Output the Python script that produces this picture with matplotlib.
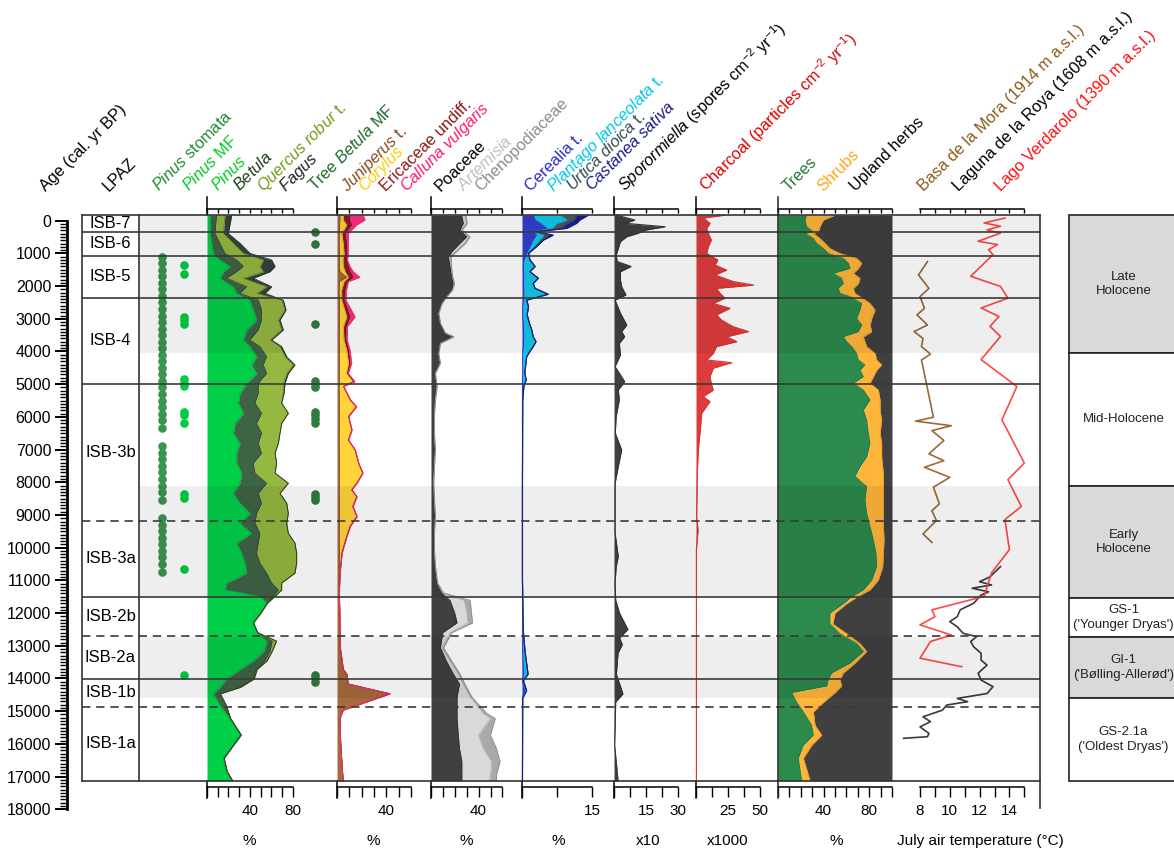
import numpy as np
import matplotlib.pyplot as plt
from matplotlib.patches import Rectangle

plt.rcParams['font.family'] = ['Liberation Sans', 'DejaVu Sans']
plt.rcParams['mathtext.fontset'] = 'custom'
plt.rcParams['mathtext.rm'] = 'Liberation Sans'
plt.rcParams['mathtext.it'] = 'Liberation Sans:italic'
plt.rcParams['mathtext.bf'] = 'Liberation Sans:bold'
plt.rcParams['axes.linewidth'] = 1.1

# ---------------- data ----------------
# zones (LPAZ) and chronozones, ages in cal. yr BP
zone_names = ['ISB-7', 'ISB-6', 'ISB-5', 'ISB-4', 'ISB-3b', 'ISB-3a', 'ISB-2b', 'ISB-2a', 'ISB-1b', 'ISB-1a']
zone_tops = [-174, 350, 1070, 2355, 5000, 9190, 11500, 12690, 14015, 14860]
zone_line = ['', '-', '-', '-', '-', '--', '-', '--', '-', '--']
period_names = ['Late\nHolocene', 'Mid-Holocene', 'Early\nHolocene', "GS-1\n('Younger Dryas')",
                "GI-1\n('Bølling-Allerød')", "GS-2.1a\n('Oldest Dryas')"]
period_tops = [-174, 4045, 8110, 11540, 12730, 14600]
period_shaded = [True, False, True, False, True, False]
base_age = 17135

# presence dots
pinus_stomata = [1100, 1300, 1500, 1700, 1900, 2100, 2300, 2500, 2700, 2900, 3100, 3300, 3500, 3700,
                 3900, 4100, 4300, 4500, 4700, 4900, 5100, 5300, 5500, 5700, 5900, 6100, 6350,
                 6900, 7100, 7300, 7500, 7700, 7900, 8100, 8300, 8550,
                 9100, 9300, 9500, 9700, 9900, 10100, 10300, 10500, 10750]
pinus_mf = [1350, 1620, 2950, 3050, 3150, 4850, 4950, 5050, 5850, 5950, 6200, 8350, 8480, 10650, 13900]
betula_mf = [350, 700, 3150, 4900, 5000, 5100, 5850, 5950, 6050, 6200, 8350, 8450, 8550, 13900, 14000, 14100]

# tree pollen (%)
tree_age = [-170, 390, 690, 1000, 1200, 1400, 1560, 1760, 2020, 2220, 2430, 2730, 3040, 3340, 3650,
            3850, 4160, 4410, 4670, 4970, 5280, 5580, 5890, 6200, 6500, 6810, 7110, 7420, 7720,
            8030, 8340, 8640, 8950, 9250, 9560, 9860, 10170, 10470, 10780, 11080, 11290, 11490,
            11700, 12000, 12300, 12600, 12860, 13170, 13470, 13720, 14020, 14270, 14470, 14820,
            15220, 15730, 16440, 16850, 17130]
pinus = [3.4, 2.8, 4.4, 5.9, 12.1, 21.5, 15.3, 12.1, 24.6, 27.7, 40.2, 43.3, 46.4, 37.1, 34.0,
         40.2, 46.4, 41.7, 46.4, 37.1, 30.8, 29.3, 34.0, 26.2, 24.6, 30.8, 27.7, 27.7, 32.4,
         30.8, 24.6, 30.8, 40.2, 30.8, 41.7, 27.7, 32.4, 35.5, 37.1, 18.4, 16.8, 49.5,
         56, 50, 43, 47, 56, 53, 43, 31, 18, 12, 6, 12, 21, 31, 15, 18, 23]
betula = [5.6, 4.7, 7.7, 10.9, 15.6, 12.5, 12.4, 6.3, 12.5, 3.1, 7.8, 7.8, 4.7, 10.9, 6.2,
          9.3, 9.4, 10.9, 9.4, 10.9, 17.2, 15.6, 17.1, 20.2, 26.5, 17.2, 23.4, 15.6, 12.5,
          25.0, 23.4, 20.3, 6.2, 14.1, 7.8, 20.3, 14.0, 14.0, 18.7, 42.0, 49.9, 12.5,
          0.3, 0.3, 0.3, 0.3, 5, 6, 11, 15, 25, 19, 6, 6, 1, 1, 1, 1, 1]
quercus = [7.8, 7.8, 12.5, 17.2, 24.9, 15.5, 24.9, 15.6, 18.7, 15.6, 21.8, 21.8, 15.6, 21.8, 18.7,
           18.7, 17.1, 28.1, 18.7, 23.3, 23.3, 24.9, 24.9, 23.4, 17.1, 18.7, 12.5, 21.8, 18.7,
           20.2, 20.2, 23.4, 29.6, 29.6, 26.5, 34.2, 37.4, 34.3, 26.4, 9.4, 3.1, 1.6,
           0.2, 0.2, 0.2, 0.2, 4, 2, 2, 1, 1, 0.5, 0.5, 0, 0, 0, 0, 0, 0]
fagus = [6.3, 4.6, 6.2, 6.2, 7.8, 14.1, 6.3, 9.3, 4.6, 7.8, 1.5, 0.9, 1.5, 1.5, 1.5,
         1.6, 1.6, 1.5, 1.5, 1.6, 0.7, 0, 0, 0, 0, 0, 0, 0, 0,
         0, 0, 0, 0, 0, 0, 0, 0, 0, 0, 0, 0, 0,
         0, 0, 0, 0, 0, 0, 0, 0, 0, 0, 0, 0, 0, 0, 0, 0, 0]

# shrubs (%)
shrub_age = [-170, -20, 130, 390, 690, 1000, 1200, 1400, 1560, 1730, 1860, 2120, 2430, 2940, 3240,
             3650, 3950, 4360, 4670, 4920, 5070, 5480, 5690, 5990, 6400, 6710, 7010, 7420, 7720,
             8030, 8230, 8440, 8740, 9050, 9350, 9660, 10170, 10780, 11390, 12000, 13060, 13720,
             13870, 14170, 14470, 14720, 14970, 15220, 16000, 17130]
juniperus = [2.4, 2.4, 2.0, 1.9, 1.8, 1.9, 2.0, 1.9, 2.4, 7.8, 1.9, 1.8, 1.9, 2.0, 1.9,
             1.8, 1.9, 2.0, 1.9, 1.9, 1.8, 1.9, 2.0, 1.9, 1.9, 1.8, 1.9, 2.0, 1.9,
             1.9, 1.8, 1.9, 1.9, 2.0, 1.9, 1.8, 1.9, 1.9, 1.5, 2.0, 2.5, 5.0,
             8.0, 9.0, 43.0, 24.0, 5.0, 2.4, 3.0, 5.0]
corylus = [2.7, 2.7, 5.8, 1.9, 3.2, 3.8, 2.7, 3.2, 4.1, 1.4, 3.8, 1.9, 1.9, 5.9, 3.2,
           3.8, 5.9, 7.3, 5.9, 11.3, 3.2, 8.6, 13.5, 7.3, 10.0, 7.3, 12.7, 15.4, 18.9,
           14.0, 10.0, 14.0, 10.8, 14.0, 8.6, 5.9, 1.9, 0.5, 0.2, 0.2, 0.2, 0.1,
           0, 0, 0, 0, 0, 0, 0, 0]
ericaceae = [5.4, 4.9, 4.1, 2.7, 2.7, 2.1, 2.7, 4.1, 4.0, 4.0, 2.1, 2.7, 1.9, 2.7, 2.2,
             1.6, 1.4, 1.3, 0.7, 0.6, 0.4, 0.3, 0.3, 0.2, 0.2, 0.2, 0.2, 0.2, 0.2,
             0.2, 0.2, 0.2, 0.2, 0.2, 0.2, 0.2, 0.2, 0.1, 0.1, 0.1, 0, 0,
             0, 0, 0, 0, 0, 0, 0, 0]
calluna = [10.9, 12.7, 4.0, 2.7, 1.4, 1.4, 1.1, 1.3, 2.7, 5.4, 1.4, 1.3, 1.6, 4.1, 1.1,
           1.1, 1.3, 1.4, 0.7, 0.8, 0.2, 0.2, 0.3, 0.2, 0.2, 0.2, 0.2, 0.2, 0.2,
           0.2, 0.2, 0.2, 0.2, 0.2, 0.2, 0.2, 0.2, 0.1, 0.1, 0.1, 0.1, 0.1,
           0.1, 0.1, 0.2, 0.1, 0.1, 0, 0, 0]

# herbs (%)
herb_age = [-170, 80, 290, 490, 690, 900, 1100, 1400, 1710, 1920, 2120, 2320, 2530, 2830, 3140,
            3440, 3550, 3750, 4060, 4360, 4670, 5070, 5480, 5990, 6500, 7010, 7520, 8030, 8540,
            9050, 9560, 10070, 10580, 11090, 11390, 11610, 12000, 12300, 12600, 13060, 13470,
            13870, 14170, 14570, 15070, 15220, 15730, 16140, 16540, 16940, 17130]
poaceae = [25.8, 27.2, 24.4, 30.0, 24.4, 18.8, 14.6, 16.0, 17.4, 18.8, 17.4, 13.2, 9.0, 6.2, 7.6,
           11.8, 18.8, 7.6, 6.2, 7.6, 3.4, 4.8, 3.4, 2.5, 2.5, 3.4, 2.5, 2.0, 2.5,
           3.4, 2.5, 2.5, 3.4, 4.8, 9.0, 16, 20, 22, 10, 8, 13,
           19, 24, 22, 22, 22, 23, 24, 26, 26, 26]
artemisia = [2.8, 2.8, 1.4, 2.2, 4.2, 3.5, 1.9, 1.0, 0.6, 0.7, 0.6, 0.3, 0.3, 0.3, 0.3,
             0.3, 0.3, 0.3, 0.3, 0.3, 0.3, 0.3, 0.3, 0.3, 0.3, 0.3, 0.3, 0.3, 0.3,
             0.3, 0.3, 0.3, 0.3, 0.7, 1.4, 12, 10, 9, 6, 1, 3,
             4, 3, 11, 22, 28, 17, 20, 25, 24, 23]
chenopod = [0.5, 0.5, 0.3, 0.5, 0.5, 0.5, 0.3, 0.2, 0.2, 0.2, 0.2, 0.1, 0.1, 0.1, 0.1,
            0.1, 0.1, 0.1, 0.1, 0.1, 0.1, 0.1, 0.1, 0.1, 0.1, 0.1, 0.1, 0.1, 0.1,
            0.1, 0.1, 0.1, 0.1, 0.2, 0.3, 5, 4, 4, 1.5, 1.5, 1.5,
            1.5, 1.5, 1.5, 3, 4, 10, 11, 7, 5, 6]

# anthropogenic indicators (%)
cereal_age = [-170, -20, 80, 235, 335, 440, 590, 795, 1000, 1200, 1400, 1560, 1760, 1920, 2070,
              2250, 2430, 2630, 2880, 3190, 3340, 3550, 3700, 3850, 4000, 4160, 4670, 4870, 5070,
              5500, 8000, 11000, 12500, 13170, 13870, 14070, 14370, 14600, 17130]
cerealia = [2.4, 2.8, 3.9, 5.3, 2.4, 3.1, 2.4, 1.7, 1.0, 0.4, 0.3, 0.3, 0.4, 0.3, 0.4,
            0.4, 0.3, 0.15, 0.15, 0.3, 0.3, 0.4, 0.3, 0.3, 0.15, 0.15, 0.15, 0.1, 0.1,
            0.1, 0.1, 0.1, 0.15, 0.15, 0.3, 0.1, 0.6, 0.1, 0.1]
plantago = [5.7, 6.8, 3.5, 1.1, 0.4, 1.5, 1.5, 1.1, 0.4, 1.3, 2.5, 1.4, 3.1, 2.1, 2.4,
            5.2, 0.7, 1.25, 0.95, 1.4, 1.8, 2.0, 2.7, 2.1, 1.55, 0.85, 0.45, 0.8, 0.3,
            0.05, 0, 0, 0.1, 0.5, 1.0, 0.2, 0.4, 0.05, 0]
urtica = [3.6, 1.4, 2.2, 1.7, 0, 1.0, 0.3, 0.1, 0, 0, 0, 0, 0, 0, 0,
          0, 0, 0, 0, 0, 0, 0, 0, 0, 0, 0, 0, 0, 0,
          0, 0, 0, 0, 0, 0, 0, 0, 0, 0]
castanea = [2.5, 1.4, 2.1, 1.5, 0.3, 1.1, 0.4, 0.2, 0, 0, 0, 0, 0, 0, 0,
            0, 0, 0, 0, 0, 0, 0, 0, 0, 0, 0, 0, 0, 0,
            0, 0, 0, 0, 0, 0, 0, 0, 0, 0]

# Sporormiella (x10 spores cm-2 yr-1)
spor_age = [-170, -20, 80, 185, 285, 390, 490, 640, 850, 1050, 1250, 1400, 1560, 1810, 2020, 2270,
            2430, 2830, 3190, 3390, 3550, 3750, 4110, 4460, 4920, 5180, 5480, 5990, 6500, 7010,
            7520, 8030, 8540, 9560, 10270, 10580, 11090, 11610, 12000, 12500, 12760, 12960,
            13220, 13870, 14470, 14720, 16040, 17130]
sporormiella = [1.2, 9.8, 5.2, 24, 15, 11, 6, 3, 2, 1, 1.5, 8, 3, 3, 3.6, 5.6,
                0.5, 3, 6, 3.6, 5, 2.5, 3, 0.5, 5, 2, 2.5, 1, 0.6, 3.6,
                2, 0.5, 0.5, 0.5, 2, 1, 0.5, 0.8, 2.6, 6.5, 2.6, 3.9,
                1.9, 1.1, 4.2, 0.8, 0.3, 1.9]

# charcoal influx (x1000 particles cm-2 yr-1)
char_age = [-170, -80, 80, 235, 390, 590, 795, 1000, 1200, 1355, 1510, 1660, 1860, 1970, 2070,
            2220, 2370, 2530, 2680, 2880, 3040, 3240, 3390, 3550, 3700, 3850, 4060, 4260, 4340,
            4510, 4770, 5020, 5180, 5380, 5530, 5890, 6500, 7010, 7720, 9050, 9460, 10070,
            11000, 14000, 17130]
charcoal = [22.6, 5.7, 11, 8.3, 9.6, 12, 9.6, 8.3, 17, 14.8, 24, 14.8, 29, 45, 16,
            18.7, 22.7, 13.5, 26.6, 16, 20, 29, 40.9, 24, 31.8, 16, 13.5, 8.3, 27.9,
            13.5, 10.9, 12.2, 13.5, 5.7, 10.9, 4.4, 3.1, 1.8, 1.0, 0.5, 1.6, 0.3,
            0.3, 0.3, 0.3]

# pollen groups (%), upland herbs = remainder to 100
group_age = [-170, -20, 185, 335, 390, 540, 690, 850, 1000, 1150, 1300, 1460, 1610, 1760, 1920,
             2070, 2220, 2320, 2530, 2730, 2990, 3190, 3390, 3550, 3700, 3850, 4060, 4260, 4410,
             4570, 4770, 4970, 5180, 5480, 5790, 6100, 6500, 6810, 7220, 7520, 7820, 8130, 8540,
             8950, 9350, 9760, 10170, 10580, 10990, 11290, 11490, 11710, 12000, 12330, 12630,
             12930, 13170, 13530, 13830, 14030, 14230, 14430, 14730, 15020, 15430, 15730, 16040,
             16440, 17130]
trees = [25.1, 23.7, 25.1, 31.0, 23.7, 31.0, 33.9, 39.8, 44.2, 57.3, 61.7, 63.2, 48.5, 55.8, 57.3,
         52.9, 54.4, 63.2, 73.4, 71.9, 69.0, 73.4, 70.5, 57.3, 60.2, 64.6, 69.0, 70.5, 76.3,
         71.9, 74.9, 66.1, 74.9, 80.7, 74.9, 77.8, 79.2, 80.7, 77.8, 71.9, 67.5, 77.8, 76.3,
         77.8, 80.7, 83.6, 86.0, 86.5, 82.2, 74.9, 65.0, 57.3, 45.6, 45.6, 54.4,
         69.0, 74.9, 63.2, 47.1, 44.2, 42.7, 12.0, 16.4, 22.2, 29.5, 31.0, 22.2, 17.8, 20.8]
shrubs = [24.9, 16.1, 11.7, 4.4, 7.3, 5.8, 7.3, 5.8, 10.2, 11.7, 11.7, 7.3, 17.6, 16.1, 13.2,
          13.2, 13.1, 8.7, 7.3, 13.2, 13.2, 7.3, 11.7, 17.6, 16.1, 13.2, 16.1, 16.0, 14.6,
          14.6, 8.7, 14.6, 13.1, 8.8, 14.6, 13.1, 10.3, 10.2, 13.1, 19.9, 24.9, 14.6, 16.1,
          14.6, 11.7, 9.4, 6.4, 5.3, 5.8, 5.8, 5.0, 2.9, 4.4, 2.4, 5.8,
          2.9, 2.9, 4.3, 10.2, 10.2, 13.1, 38.0, 23.4, 8.8, 3.0, 7.3, 7.3, 4.4, 7.3]

# July air temperature reconstructions (deg C)
basa_age = [1250, 1660, 2070, 2320, 2680, 2880, 3190, 3390, 3600, 3850, 4080, 4260, 6010, 6130,
            6270, 6420, 6720, 7130, 7340, 7540, 7850, 8150, 8660, 8870, 9170, 9580, 9840]
basa_temp = [8.5, 7.9, 8.6, 8.0, 8.3, 7.8, 8.5, 7.6, 8.2, 8.1, 8.7, 8.1, 8.9, 7.7,
             10.1, 8.8, 9.6, 8.6, 9.6, 8.3, 10.0, 8.9, 9.3, 8.8, 9.1, 8.2, 8.8]
roya_age = [10580, 10890, 11040, 11140, 11240, 11350, 11450, 11700, 11900, 12110, 12260, 12420,
            12620, 12720, 12870, 13030, 13230, 13440, 13590, 13840, 14050, 14250, 14460, 14610,
            14710, 14810, 14970, 15170, 15320, 15480, 15680, 15780, 15830]
roya_temp = [13.4, 12.7, 12.0, 12.8, 11.5, 12.6, 12.1, 11.6, 10.7, 10.5, 10.0, 10.5,
             10.9, 11.8, 11.4, 11.6, 12.1, 12.1, 12.5, 11.9, 12.1, 12.9, 12.5, 10.5,
             11.2, 9.8, 9.5, 8.2, 8.7, 8.0, 8.6, 8.5, 6.9]
verd_age = [-80, 70, 170, 280, 380, 630, 730, 890, 1040, 1700, 2010, 2370, 2670, 2930, 3230, 3540,
            4250, 5070, 6090, 7410, 7920, 8740, 9140, 10060, 10770, 11490, 11900, 12110, 12360,
            12670, 12870, 13380, 13640]
verd_temp = [13.7, 12.3, 13.4, 12.5, 13.4, 11.9, 13.2, 12.6, 12.9, 11.4, 13.4, 13.9, 12.1, 13.3,
             12.7, 13.4, 12.1, 14.5, 13.5, 15.0, 13.9, 14.8, 13.7, 14.0, 12.8, 12.3, 8.8, 9.0,
             8.0, 10.1, 8.7, 8.0, 10.8]

# ---------------- layout ----------------
W, H = 1174, 848
TOP, BOT = 215, 781
AGE_TOP, AGE_BOT = -174, 17135
PX_PER_YR = (BOT - TOP) / (AGE_BOT - AGE_TOP)

fig = plt.figure(figsize=(W / 100, H / 100), dpi=100)


def rect(x0, x1, y0, y1):
    return [x0 / W, 1 - y1 / H, (x1 - x0) / W, (y1 - y0) / H]


def panel(x0, x1, px0, s):
    ax = fig.add_axes(rect(x0, x1, TOP, BOT))
    ax.set_xlim((x0 - px0) / s, (x1 - px0) / s)
    ax.set_ylim(AGE_BOT, AGE_TOP)
    ax.axis('off')
    return ax


def ruler(x0, x1, px0, s, ticks, labels, long_zero=True):
    xlim = ((x0 - px0) / s, (x1 - px0) / s)
    top = fig.add_axes(rect(x0, x1, 209, 215))
    bot = fig.add_axes(rect(x0, x1, 781, 787))
    for ax in (top, bot):
        ax.set_xlim(xlim)
        ax.patch.set_visible(False)
        ax.set_yticks([])
        for sp in ax.spines.values():
            sp.set_visible(False)
    top.spines['top'].set_visible(True)
    top.spines['top'].set_bounds(ticks[0], ticks[-1])
    top.xaxis.tick_top()
    top.set_xticks(ticks)
    top.tick_params(axis='x', direction='in', length=3, width=1, labeltop=False)
    bot.spines['bottom'].set_visible(True)
    bot.spines['bottom'].set_bounds(ticks[0], ticks[-1])
    bot.set_xticks(ticks, labels)
    bot.tick_params(axis='x', direction='out', length=7, width=1, labelsize=11, pad=5)
    if long_zero:
        top.plot([ticks[0]] * 2, [0, 3], transform=top.get_xaxis_transform(),
                 color='k', lw=1.1, clip_on=False)
        bot.plot([ticks[0]] * 2, [1, -1.85], transform=bot.get_xaxis_transform(),
                 color='k', lw=1.1, clip_on=False)


def stack(ax, age, series, colors, edges, lw=0.6):
    base = np.zeros(len(age))
    for vals, c, e in zip(series, colors, edges):
        top = base + np.asarray(vals, dtype=float)
        ax.fill_betweenx(age, base, top, color=c, lw=0)
        ax.plot(top, age, color=e, lw=lw)
        base = top
    return base


def dots(xc, ages, color):
    ax = fig.add_axes(rect(xc - 8, xc + 8, TOP, BOT))
    ax.set_xlim(-1, 1)
    ax.set_ylim(AGE_BOT, AGE_TOP)
    ax.axis('off')
    ax.plot(np.zeros(len(ages)), ages, 'o', ms=6.2, color=color, mec='none')


# white background / LPAZ frame
bg = fig.add_axes(rect(82, 1040, TOP, BOT))
bg.set_xlim(82, 1040)
bg.set_ylim(AGE_BOT, AGE_TOP)
bg.axis('off')

# presence dots
dots(162, pinus_stomata, '#3a9550')
dots(184, pinus_mf, '#00cc44')
dots(315, betula_mf, '#2f7d3f')

# tree pollen
ax = panel(205, 305, 207, 1.07)
stack(ax, tree_age, [pinus, betula, quercus, fagus],
      ['#00cf48', '#3f6345', '#94b840', '#37443a'],
      ['#00b040', '#2f4f33', '#6f8f2a', '#2a332c'])
ruler(205, 305, 207, 1.07, np.arange(0, 81, 10), ['', '', '', '', '40', '', '', '', '80'])

# shrubs
ax = panel(335, 420, 337, 1.23)
stack(ax, shrub_age, [juniperus, corylus, ericaceae, calluna],
      ['#a66a3e', '#ffd43a', '#8e1b2c', '#ff2d86'],
      ['#8a5530', '#e8b800', '#7a1020', '#ff2a80'], lw=0.7)
ruler(335, 420, 337, 1.23, np.arange(0, 61, 10), ['', '', '', '', '40', '', ''])

# herbs
ax = panel(429, 510, 431, 1.19)
stack(ax, herb_age, [poaceae, artemisia, chenopod],
      ['#404040', '#d9d9d9', '#a9a9a9'],
      ['#303030', '#b0b0b0', '#909090'])
ruler(429, 510, 431, 1.19, np.arange(0, 61, 10), ['', '', '', '', '40', '', ''])

# anthropogenic indicators
ax = panel(520, 600, 522, 4.67)
stack(ax, cereal_age, [cerealia, plantago, urtica, castanea],
      ['#3340cc', '#12c8ea', '#4d5b63', '#1e1e8a'],
      ['#3340dd', '#10b8d8', '#3d4a52', '#1e1e8a'], lw=0.8)
ruler(520, 600, 522, 4.67, [0, 7.5, 15], ['', '', '15'])

# Sporormiella
ax = panel(612, 690, 614, 2.13)
stack(ax, spor_age, [sporormiella], ['#404040'], ['#333333'], lw=0.8)
ruler(612, 690, 614, 2.13, [0, 7.5, 15, 22.5, 30], ['', '', '15', '', '30'])

# charcoal
ax = panel(694, 770, 696, 1.28)
stack(ax, char_age, [charcoal], ['#dd3c3c'], ['#e03030'], lw=0.8)
ruler(694, 770, 696, 1.28, [0, 12.5, 25, 37.5, 50], ['', '', '25', '', '50'])

# trees / shrubs / upland herbs
ax = panel(778, 892, 778, 1.14)
cum = stack(ax, group_age, [trees, shrubs], ['#2b8a4c', '#ffb43a'], ['#257a42', '#f0a020'])
ax.fill_betweenx(group_age, cum, 100, color='#404040', lw=0)
ruler(778, 892, 778, 1.14, np.arange(0, 101, 10),
      ['', '', '', '', '40', '', '', '', '80', '', ''], long_zero=False)

# temperatures
ax = panel(895, 1040, 800.8, 14.9)
ax.plot(basa_temp, basa_age, color='#9a6a3a', lw=1.2)
ax.plot(roya_temp, roya_age, color='#3a3a3a', lw=1.2)
ax.plot(verd_temp, verd_age, color='#ff4a4a', lw=1.2)
ruler(895, 1040, 800.8, 14.9, np.arange(8, 16, 1),
      ['8', '', '10', '', '12', '', '14', ''], long_zero=False)

# overlay: shaded chronozones, zone lines, frame
ov = fig.add_axes(rect(82, 1040, TOP, BOT))
ov.set_xlim(82, 1040)
ov.set_ylim(AGE_BOT, AGE_TOP)
ov.axis('off')
ov.set_zorder(5)
p_bottoms = period_tops[1:] + [base_age]
for a0, a1, sh in zip(period_tops, p_bottoms, period_shaded):
    if sh:
        ov.add_patch(Rectangle((139, a0), 1040 - 139, a1 - a0, facecolor='k', alpha=0.065, lw=0))
z_bottoms = zone_tops[1:] + [base_age]
for name, a0, a1, ls in zip(zone_names, zone_tops, z_bottoms, zone_line):
    if ls:
        ov.plot([82, 1040], [a0, a0], ls=ls, color='#3a3a3a', lw=1.2,
                dashes=(5, 3.5) if ls == '--' else (None, None))
    ov.text(110.5, (a0 + a1) / 2, name, ha='center', va='center', fontsize=12)
for a in (AGE_TOP, AGE_BOT):
    ov.plot([82, 1040], [a, a], color='#333333', lw=1.2, clip_on=False)
for xv in (82, 139):
    ov.plot([xv, xv], [AGE_TOP, AGE_BOT], color='#333333', lw=1.2, clip_on=False)
ov.plot([1040, 1040], [AGE_TOP, AGE_TOP + (808 - TOP) / PX_PER_YR], color='#333333', lw=1.2, clip_on=False)
ov.plot([778, 778], [AGE_TOP - 18 / PX_PER_YR, AGE_BOT + 17 / PX_PER_YR], color='#222222',
        lw=1.1, clip_on=False)

# chronozone boxes on the right
pax = fig.add_axes(rect(1069, 1190, TOP, BOT))
pax.set_xlim(0, 1)
pax.set_ylim(AGE_BOT, AGE_TOP)
pax.axis('off')
for name, a0, a1, sh in zip(period_names, period_tops, p_bottoms, period_shaded):
    pax.add_patch(Rectangle((0, a0), 1, a1 - a0, facecolor='#d9d9d9' if sh else 'white',
                            edgecolor='#222222', lw=1.2, clip_on=False))
    pax.text(0.45, (a0 + a1) / 2, name, ha='center', va='center', fontsize=9.5,
             linespacing=1.3, color='#222222')

# age axis
aax = fig.add_axes(rect(66.5, 72, TOP, 812))
aax.set_ylim(AGE_TOP + (812 - TOP) / PX_PER_YR, AGE_TOP)
aax.patch.set_visible(False)
for sp in ('top', 'right', 'bottom'):
    aax.spines[sp].set_visible(False)
aax.spines['left'].set_linewidth(2)
aax.spines['left'].set_bounds(0, 18000)
aax.set_xticks([])
aax.set_yticks(np.arange(0, 18001, 1000))
aax.set_yticks(np.arange(0, 18001, 100), minor=True)
aax.tick_params(axis='y', which='major', length=9, width=1.4, labelsize=11.5, pad=2)
aax.tick_params(axis='y', which='minor', length=5, width=1)

# column headers
headers = [
    ("Age (cal. yr BP)", 40, 'black'),
    ("LPAZ", 103, 'black'),
    (r"$\mathit{Pinus}$ stomata", 153, '#1f8a30'),
    (r"$\mathit{Pinus}$ MF", 183, '#00cc22'),
    (r"$\mathit{Pinus}$", 212, '#00cc22'),
    (r"$\mathit{Betula}$", 234, '#1c3a1c'),
    (r"$\mathit{Quercus\ robur}$ t.", 257, '#6d9e1e'),
    (r"$\mathit{Fagus}$", 279, '#222222'),
    (r"Tree $\mathit{Betula}$ MF", 309, '#1d6b2a'),
    (r"$\mathit{Juniperus}$ t.", 341, '#8b4a1c'),
    (r"$\mathit{Corylus}$", 358, '#ffcc00'),
    ("Ericaceae undiff.", 380, '#8b1a1a'),
    (r"$\mathit{Calluna\ vulgaris}$", 400, '#ff1a6e'),
    ("Poaceae", 435, 'black'),
    (r"$\mathit{Artemisia}$", 458, '#c0c0c0'),
    ("Chenopodiaceae", 475, '#8c8c8c'),
    ("Cerealia t.", 525, '#2a2ad0'),
    (r"$\mathit{Plantago\ lanceolata}$ t.", 547, '#00c8e8'),
    (r"$\mathit{Urtica\ dioica}$ t.", 567, '#2f4f4f'),
    (r"$\mathit{Castanea\ sativa}$", 586, '#1a1a8c'),
    (r"$\mathit{Sporormiella}$ (spores cm$^{-2}$ yr$^{-1}$)", 619, 'black'),
    (r"Charcoal (particles cm$^{-2}$ yr$^{-1}$)", 700, '#e00000'),
    ("Trees", 783, '#1f7a34'),
    ("Shrubs", 817, '#ffa51f'),
    ("Upland herbs", 850, 'black'),
    ("Basa de la Mora (1914 m a.s.l.)", 918, '#8b5a1a'),
    ("Laguna de la Roya (1608 m a.s.l.)", 953, 'black'),
    ("Lago Verdarolo (1390 m a.s.l.)", 995, '#ff1010'),
]
for label, xp, col in headers:
    fig.text((xp + 6) / W, 1 - 192 / H, label, rotation=45, rotation_mode='anchor',
             ha='left', va='baseline', fontsize=11.8, color=col)

# units under the rulers
units = [("%", 249), ("%", 373), ("%", 466), ("%", 558), ("x10", 648), ("x1000", 728),
         ("%", 836), ("July air temperature (°C)", 980)]
for label, xp in units:
    fig.text(xp / W, 1 - 841 / H, label, ha='center', va='center', fontsize=11)

fig.savefig('out.png', dpi=100)
